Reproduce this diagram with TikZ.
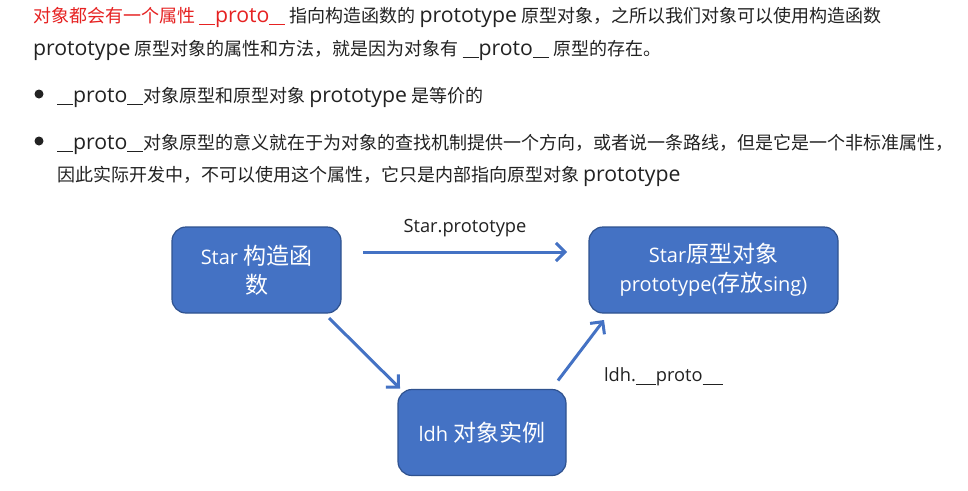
\documentclass[tikz,border=0pt]{standalone}
\usepackage{fontspec}
\setmainfont{Noto Sans CJK SC}
\newfontfamily\lt[Scale=1.18]{Open Sans}
\newfontfamily\dl[Scale=0.87]{Open Sans}
\newcommand\us{\rule[-3pt]{8pt}{1.2pt}}
\newcommand\usl{\rule[-3pt]{10pt}{1.2pt}}
\usetikzlibrary{arrows.meta}
\definecolor{boxblue}{HTML}{4472C4}
\definecolor{boxedge}{HTML}{2F528F}
\definecolor{txt}{HTML}{222222}
\definecolor{redtxt}{HTML}{E62222}
\begin{document}
\begin{tikzpicture}[x=1pt,y=-1pt,
  every node/.style={inner sep=0pt, outer sep=0pt, text=txt},
  textline/.style={anchor=base west, font=\fontsize{18}{22}\selectfont},
  box/.style={draw=boxedge, line width=1.2pt, fill=boxblue, rounded corners=14pt,
    text=white, font=\fontsize{23}{29}\selectfont, align=center,
    minimum height=86pt},
  conn/.style={draw=boxblue, line width=3pt,
    -{Straight Barb[length=9pt,width=18pt,line width=3pt]}},
  lbl/.style={font=\fontsize{21}{24}\selectfont\dl},
  bullet/.style={circle, fill=txt, minimum size=9pt}
]
\fill[white] (0,0) rectangle (968,490);
\useasboundingbox (0,0) rectangle (968,490);

% text block
\node[textline] (l1) at (33,22) {\textcolor{redtxt}{对象都会有一个属性 \us\us{\lt proto}\us\us} 指向构造函数的 {\lt prototype} 原型对象，之所以我们对象可以使用构造函数};
\node[textline] (l2) at (33,55) {{\lt prototype} 原型对象的属性和方法，就是因为对象有 \us\us{\lt proto}\us\us\ 原型的存在。};
\node[bullet] (b1) at (39,94) {};
\node[textline] (l3) at (57,102) {\us\us{\lt proto}\us\us 对象原型和原型对象 {\lt prototype} 是等价的};
\node[bullet] (b2) at (39,141) {};
\node[textline] (l4) at (57,149) {\us\us{\lt proto}\us\us 对象原型的意义就在于为对象的查找机制提供一个方向，或者说一条路线，但是它是一个非标准属性，};
\node[textline] (l5) at (57,181) {因此实际开发中，不可以使用这个属性，它只是内部指向原型对象 {\lt prototype}};

% boxes
\node[box, minimum width=169pt] (star) at (256.5,270) {{\dl Star} 构造函\\数};
\node[box, minimum width=249pt] (proto) at (713.5,270) {{\dl Star}原型对象\\{\dl prototype(}存放{\dl sing)}};
\node[box, minimum width=168pt] (ldh) at (482,432.5) {{\dl ldh} 对象实例};

% connectors
\draw[conn] ([xshift=22pt,yshift=18pt]star.east) -- ([xshift=-22pt,yshift=18pt]proto.west);
\draw[conn] ([xshift=-12pt,yshift=-5pt]star.south east) -- ([xshift=2pt,yshift=1pt]ldh.north west);
\draw[conn] ([xshift=-8pt,yshift=9pt]ldh.north east) -- ([xshift=15pt,yshift=-7pt]proto.south west);

% labels
\node[lbl] (lp) at (465,228) {Star.prototype};
\node[lbl, anchor=west] (lq) at (604,377) {ldh.\usl\usl proto\usl\usl};
\end{tikzpicture}
\end{document}
